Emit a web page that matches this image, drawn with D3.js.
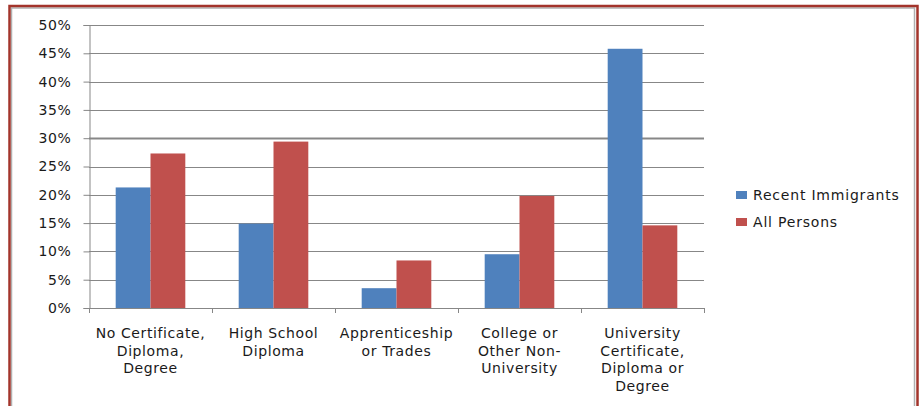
<!DOCTYPE html>
<html>
<head>
<meta charset="utf-8">
<script src="https://cdn.jsdelivr.net/npm/d3@7"></script>
<style>
  html, body { margin: 0; padding: 0; background: #fff; }
  svg { display: block; }
  text { font-family: "DejaVu Sans", sans-serif; fill: #1a1a1a; }
</style>
</head>
<body>
<svg id="chart" width="921" height="406"></svg>
<script>
// ---- data ----
const categories = [
  ["No Certificate,", "Diploma,", "Degree"],
  ["High School", "Diploma"],
  ["Apprenticeship", "or Trades"],
  ["College or", "Other Non-", "University"],
  ["University", "Certificate,", "Diploma or", "Degree"]
];
const seriesNames = ["Recent Immigrants", "All Persons"];
const recentImmigrants = [21.3, 14.9, 3.5, 9.5, 45.8];
const allPersons = [27.3, 29.4, 8.4, 19.8, 14.6];
const yTicks = [0, 5, 10, 15, 20, 25, 30, 35, 40, 45, 50];
const colors = ["#4f81bd", "#c0504d"];

const svg = d3.select("#chart");

// frame
svg.append("rect").attr("x", 11.5).attr("y", 8).attr("width", 903).attr("height", 420)
  .attr("fill", "none").attr("stroke", "#b0b0b0").attr("stroke-width", 1.5);
svg.append("rect").attr("x", 9.5).attr("y", 6).attr("width", 908).attr("height", 420)
  .attr("fill", "none").attr("stroke", "#a3342b").attr("stroke-width", 2.5);

const pLeft = 89, pRight = 704, pTop = 25, pBottom = 308;
const catIdx = d3.range(categories.length);
const x = d3.scaleBand().domain(catIdx).range([pLeft, pRight]).paddingInner(0).paddingOuter(0);
const y = d3.scaleLinear().domain([0, 50]).range([pBottom, pTop]);
const groupPad = 0.217; // fraction of band on each side
const sub = d3.scaleBand().domain([0, 1])
  .range([x.bandwidth() * groupPad, x.bandwidth() * (1 - groupPad)]);

// gridlines
svg.append("g").selectAll("line").data(yTicks.filter(d => d > 0)).join("line")
  .attr("x1", pLeft).attr("x2", pRight)
  .attr("y1", d => Math.round(y(d)) + 0.5).attr("y2", d => Math.round(y(d)) + 0.5)
  .attr("stroke", "#878787").attr("stroke-width", d => d === 30 ? 2 : 1);

// bars
const series = [recentImmigrants, allPersons];
series.forEach((vals, si) => {
  svg.append("g").selectAll("rect").data(vals).join("rect")
    .attr("x", (d, i) => x(i) + sub(si))
    .attr("width", sub.bandwidth())
    .attr("y", d => y(d))
    .attr("height", d => y(0) - y(d))
    .attr("fill", colors[si]);
});

// y axis
const yAxis = d3.axisLeft(y).tickValues(yTicks).tickFormat(d => d + "%").tickSize(6).tickPadding(12);
const gy = svg.append("g").attr("transform", `translate(${pLeft + 0.5},0)`).call(yAxis);
gy.select(".domain").attr("stroke", "#878787");
gy.selectAll(".tick line").attr("stroke", "#878787");
gy.selectAll(".tick text").style("font-size", "14px").style("letter-spacing", "0.6px").attr("fill", "#1a1a1a");

// x axis
svg.append("line").attr("x1", pLeft).attr("x2", pRight).attr("y1", pBottom + 0.5).attr("y2", pBottom + 0.5)
  .attr("stroke", "#878787");
const bounds = catIdx.map(i => x(i)).concat([x(catIdx.length - 1) + x.bandwidth()]);
svg.append("g").selectAll("line").data(bounds).join("line")
  .attr("x1", d => Math.round(d) + 0.5).attr("x2", d => Math.round(d) + 0.5)
  .attr("y1", pBottom).attr("y2", pBottom + 5).attr("stroke", "#878787");

// category labels
const lab = svg.append("g").selectAll("text").data(categories).join("text")
  .attr("text-anchor", "middle")
  .style("font-size", "14px").style("letter-spacing", "0.6px");
lab.each(function(lines, i) {
  d3.select(this).selectAll("tspan").data(lines).join("tspan")
    .attr("x", x(i) + x.bandwidth() / 2)
    .attr("y", (d, j) => 338 + j * 17.7)
    .text(d => d);
});

// legend
const lg = svg.append("g");
seriesNames.forEach((name, i) => {
  const cy = 195 + i * 27;
  lg.append("rect").attr("x", 736).attr("y", cy - 4).attr("width", 11).attr("height", 8).attr("fill", colors[i]);
  lg.append("text").attr("x", 753).attr("y", cy).attr("dy", "0.36em")
    .style("font-size", "14px").style("letter-spacing", "0.8px").text(name);
});
</script>
</body>
</html>
